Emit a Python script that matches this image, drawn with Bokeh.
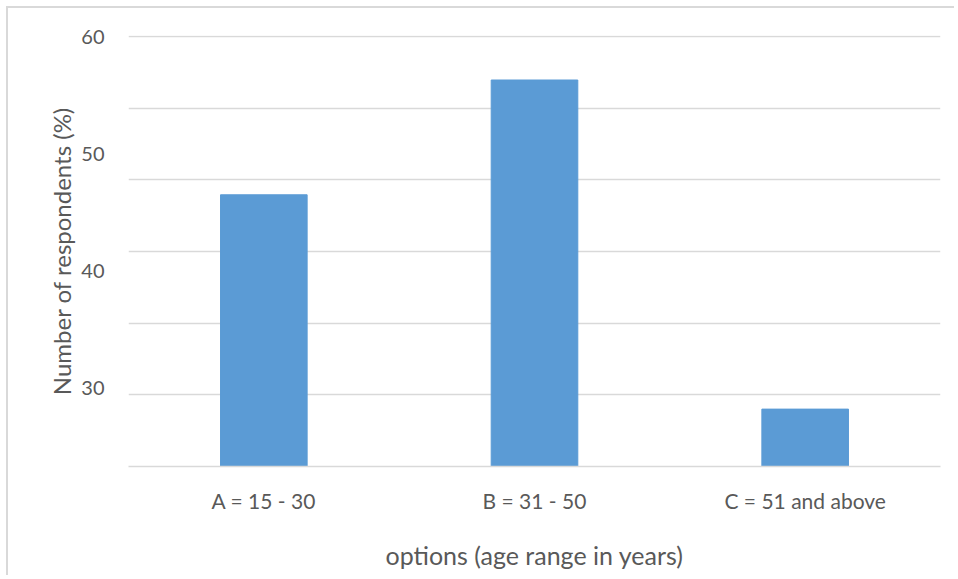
import numpy as np
from bokeh.plotting import figure
from bokeh.models import FactorRange, Range1d, FixedTicker, ColumnDataSource, InlineStyleSheet
from bokeh.embed import file_html
from bokeh.resources import INLINE

categories = ["A = 15 - 30", "B = 31 - 50", "C = 51 and above"]
values = [46.5, 56.3, 28.2]
y_tick_values = [30, 40, 50, 60]
Y_MIN, Y_TOP = 23.3, 60.0

FONT = "Lato"
TXT = "#595959"
GRID = "#d9d9d9"

src = ColumnDataSource(dict(cat=categories, val=values))

sheet = InlineStyleSheet(css=":host { margin-left: 6px; margin-top: 6px; "
                             "border-top: 2px solid #d9d9d9; border-left: 2px solid #d9d9d9; }")

p = figure(x_range=FactorRange(factors=categories), y_range=Range1d(Y_MIN, Y_TOP + 0.1),
           width=948, height=569, output_backend="svg", toolbar_location=None,
           min_border_left=120, min_border_right=16, min_border_top=27, min_border_bottom=111,
           stylesheets=[sheet])
p.outline_line_color = None

p.vbar(x="cat", top="val", bottom=Y_MIN, width=0.32, source=src,
       fill_color="#5b9bd5", line_color="#5b9bd5")

p.yaxis.ticker = FixedTicker(ticks=y_tick_values)
p.ygrid.ticker = FixedTicker(ticks=list(np.linspace(Y_MIN, Y_TOP, 7)))
p.ygrid.grid_line_color = GRID
p.ygrid.grid_line_width = 1.5
p.xgrid.grid_line_color = None

p.yaxis.axis_line_color = None
p.yaxis.major_tick_line_color = None
p.yaxis.minor_tick_line_color = None
p.yaxis.major_label_standoff = 18
p.yaxis.major_label_text_font = FONT
p.yaxis.major_label_text_font_size = "20px"
p.yaxis.major_label_text_color = TXT
p.yaxis.axis_label = "Number of respondents (%)"
p.yaxis.axis_label_text_font = FONT
p.yaxis.axis_label_text_font_size = "24px"
p.yaxis.axis_label_text_font_style = "normal"
p.yaxis.axis_label_text_color = TXT
p.yaxis.axis_label_standoff = 2

p.xaxis.axis_line_color = GRID
p.xaxis.axis_line_width = 1.5
p.xaxis.major_tick_line_color = None
p.xaxis.minor_tick_line_color = None
p.xaxis.major_label_standoff = 15
p.xaxis.major_label_text_font = FONT
p.xaxis.major_label_text_font_size = "21px"
p.xaxis.major_label_text_color = TXT
p.xaxis.axis_label = "options (age range in years)"
p.xaxis.axis_label_text_font = FONT
p.xaxis.axis_label_text_font_size = "25px"
p.xaxis.axis_label_text_font_style = "normal"
p.xaxis.axis_label_text_color = TXT
p.xaxis.axis_label_standoff = 24

open("out.html", "w").write(file_html(p, INLINE))
